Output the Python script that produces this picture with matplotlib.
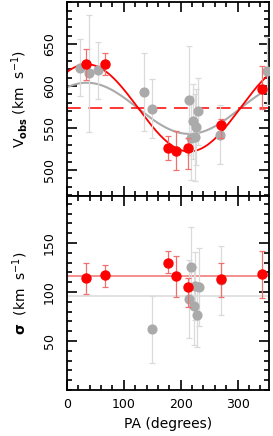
#!/usr/bin/env python3
"""Vobs and sigma versus position angle, two stacked panels."""

import matplotlib
matplotlib.use("Agg")
import matplotlib.pyplot as plt
from matplotlib.ticker import MultipleLocator
import numpy as np

plt.rcParams["font.family"] = ["DejaVu Sans"]

# red sample: PA, Vobs, Vobs error (low, high), sigma, sigma error (low, high)
RED_PA = [34, 67, 177, 192, 212, 271, 342]
RED_V = [626, 626, 526, 523, 526, 554, 597]
RED_V_LO = [19, 13, 14, 23, 25, 16, 24]
RED_V_HI = [18, 13, 14, 23, 12, 7, 27]
RED_S = [114, 117, 130, 116, 105, 113, 118]
RED_S_LO = [16, 12, 11, 21, 20, 18, 24]
RED_S_HI = [16, 11, 12, 21, 9, 17, 24]

# grey sample
GREY_PA = [23, 39, 54, 136, 149, 215, 218, 222, 225, 227, 231, 269, 352]
GREY_V = [622, 615, 619, 593, 573, 583, 538, 558, 539, 551, 570, 542, 618]
GREY_V_ERR = [34, 70, 34, 47, 35, 65, 50, 45, 52, 45, 40, 35, 40]
GREY_S_PA = [149, 215, 218, 223, 226, 228, 232, 270]
GREY_S = [62, 93, 126, 86, 106, 77, 105, 112]
GREY_S_ERR = [34, 40, 40, 40, 35, 33, 40, 35]

# sinusoid fits (systemic, amplitude, phase in degrees) and mean sigma
RED_FIT = (574, 52, 35)
GREY_FIT = (573.5, 30.5, 35)
RED_SIGMA_MEAN = 116
GREY_SIGMA_MEAN = 96

RED = "#ff0000"
RED_LIGHT = "#f07070"
GREY = "#aaaaaa"
GREY_LIGHT = "#dadada"


def style_axis(ax):
    for s in ax.spines.values():
        s.set_linewidth(1.3)
    ax.tick_params(which="both", direction="in", top=True, right=True,
                   width=1.2, labelsize=9, pad=6)
    ax.tick_params(which="major", length=7)
    ax.tick_params(which="minor", length=3.5)
    ax.tick_params(axis="y", pad=8)
    ax.set_xlim(0, 355)
    ax.xaxis.set_major_locator(MultipleLocator(100))
    ax.xaxis.set_minor_locator(MultipleLocator(20))
    for lab in ax.get_yticklabels():
        lab.set_rotation(90)
        lab.set_va("center")


fig = plt.figure(figsize=(2.73, 4.36), dpi=100)
ax1 = fig.add_axes([0.245, 0.5505, 0.74, 0.4445])
ax2 = fig.add_axes([0.245, 0.1055, 0.74, 0.445])

pa = np.linspace(0, 355, 400)

# top panel
vsys, amp, ph = GREY_FIT
ax1.plot(pa, vsys + amp * np.cos(np.radians(pa - ph)), color=GREY, lw=1.5, zorder=2)
vsys, amp, ph = RED_FIT
ax1.plot(pa, vsys + amp * np.cos(np.radians(pa - ph)), color=RED, lw=1.3, zorder=2)
ax1.axhline(vsys, color=RED, lw=1.1, dashes=(9, 5), zorder=2)
ax1.errorbar(GREY_PA, GREY_V, yerr=GREY_V_ERR, fmt="o", color=GREY, ms=6.3,
             ecolor=GREY_LIGHT, elinewidth=0.9, capsize=2, capthick=0.9, zorder=3)
ax1.errorbar(RED_PA, RED_V, yerr=[RED_V_LO, RED_V_HI], fmt="o", color=RED, ms=6.5,
             ecolor=RED_LIGHT, elinewidth=0.9, capsize=2, capthick=0.9, zorder=4)
ax1.set_ylim(469, 700)
ax1.set_yticks([500, 550, 600, 650])
ax1.yaxis.set_minor_locator(MultipleLocator(10))
ax1.set_ylabel(r"V$_{\mathbf{obs}}$ (km  s$^{-1}$)", fontsize=10, labelpad=9)
style_axis(ax1)
ax1.tick_params(labelbottom=False)

# bottom panel
ax2.axhline(GREY_SIGMA_MEAN, color=GREY_LIGHT, lw=1.1, zorder=1)
ax2.axhline(RED_SIGMA_MEAN, color=RED_LIGHT, lw=1.1, zorder=1)
ax2.errorbar(GREY_S_PA, GREY_S, yerr=GREY_S_ERR, fmt="o", color=GREY, ms=6.3,
             ecolor=GREY_LIGHT, elinewidth=0.9, capsize=2, capthick=0.9, zorder=3)
ax2.errorbar(RED_PA, RED_S, yerr=[RED_S_LO, RED_S_HI], fmt="o", color=RED, ms=6.5,
             ecolor=RED_LIGHT, elinewidth=0.9, capsize=2, capthick=0.9, zorder=4)
ax2.set_ylim(0, 198)
ax2.set_yticks([50, 100, 150])
ax2.yaxis.set_minor_locator(MultipleLocator(10))
ax2.set_ylabel(r"$\mathbf{\sigma}$  (km  s$^{-1}$)", fontsize=10, labelpad=9)
ax2.set_xlabel("PA (degrees)", fontsize=10, labelpad=4)
style_axis(ax2)

fig.savefig("out.png", dpi=100)
